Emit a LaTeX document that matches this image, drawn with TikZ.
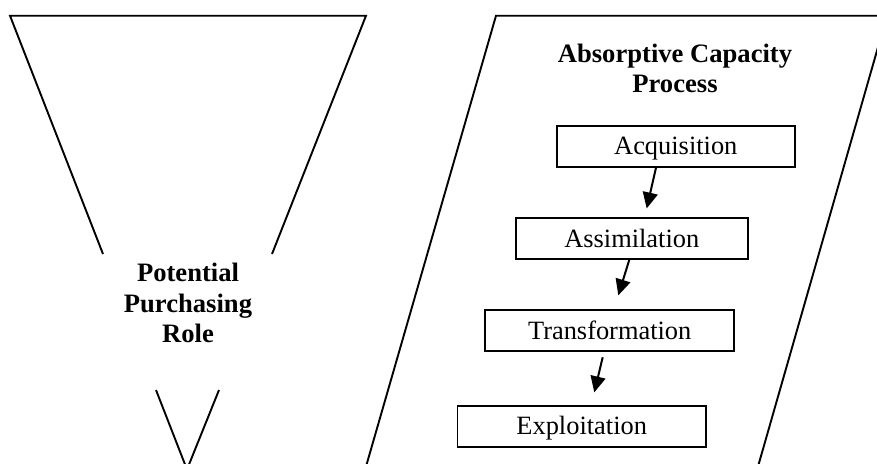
\documentclass[tikz,border=0pt]{standalone}
\usepackage{fontspec}
\setmainfont{Liberation Serif}
\usetikzlibrary{arrows.meta}
\begin{document}
\begin{tikzpicture}[x=1pt,y=-1pt,
  outline/.style={line width=1.9pt,line join=miter},
  stagebox/.style={draw,line width=1.9pt,minimum height=41pt,inner sep=0pt,
    text height=17.5pt,text depth=0pt,font=\fontsize{26.4}{30}\selectfont},
  heading/.style={align=center,font=\fontsize{26.6}{30.3}\selectfont\bfseries},
  flow/.style={line width=2pt,-{Triangle[length=16pt,width=15pt]}}]
\useasboundingbox (0,0) rectangle (877,463);
\begin{scope}
\clip (0,0) rectangle (877,463);
% funnel
\coordinate (fTL) at (10,15.7);
\coordinate (fTR) at (366,15.7);
\coordinate (fL1) at (103,254);
\coordinate (fR1) at (272,254);
\coordinate (fL2) at (156,390);
\coordinate (fR2) at (219,390);
\coordinate (fA) at (187,469.5);
\draw[outline] (fL1) -- (fTL) -- (fTR) -- (fR1);
\draw[outline] (fL2) -- (fA) -- (fR2);
% parallelogram
\coordinate (pTL) at (496,15.7);
\coordinate (pTR) at (887,15.7);
\coordinate (pBR) at (757,470);
\coordinate (pBL) at (365,470);
\draw[outline] (pBL) -- (pTL) -- (pTR) -- (pBR);
\end{scope}
\node[heading] (role) at (188,303) {Potential\\Purchasing\\Role};
\node[heading] (acp) at (675,68.5) {Absorptive Capacity\\Process};
\node[stagebox,minimum width=238pt] (acq) at (675.8,146.2) {Acquisition};
\node[stagebox,minimum width=231.5pt] (asm) at (631.8,238.3) {Assimilation};
\node[stagebox,minimum width=249pt] (trf) at (609.7,330.8) {Transformation};
\node[stagebox,minimum width=248.5pt] (exq) at (581.7,426.2) {Exploitation};
\draw[flow] ([xshift=-19.8pt]acq.south) -- ([xshift=14.9pt,yshift=8.4pt]asm.north);
\draw[flow] ([xshift=-2.5pt]asm.south) -- ([xshift=8.6pt,yshift=14pt]trf.north);
\draw[flow] ([xshift=-7pt,yshift=-5pt]trf.south) -- ([xshift=12.6pt,yshift=12.4pt]exq.north);
\end{tikzpicture}
\end{document}
